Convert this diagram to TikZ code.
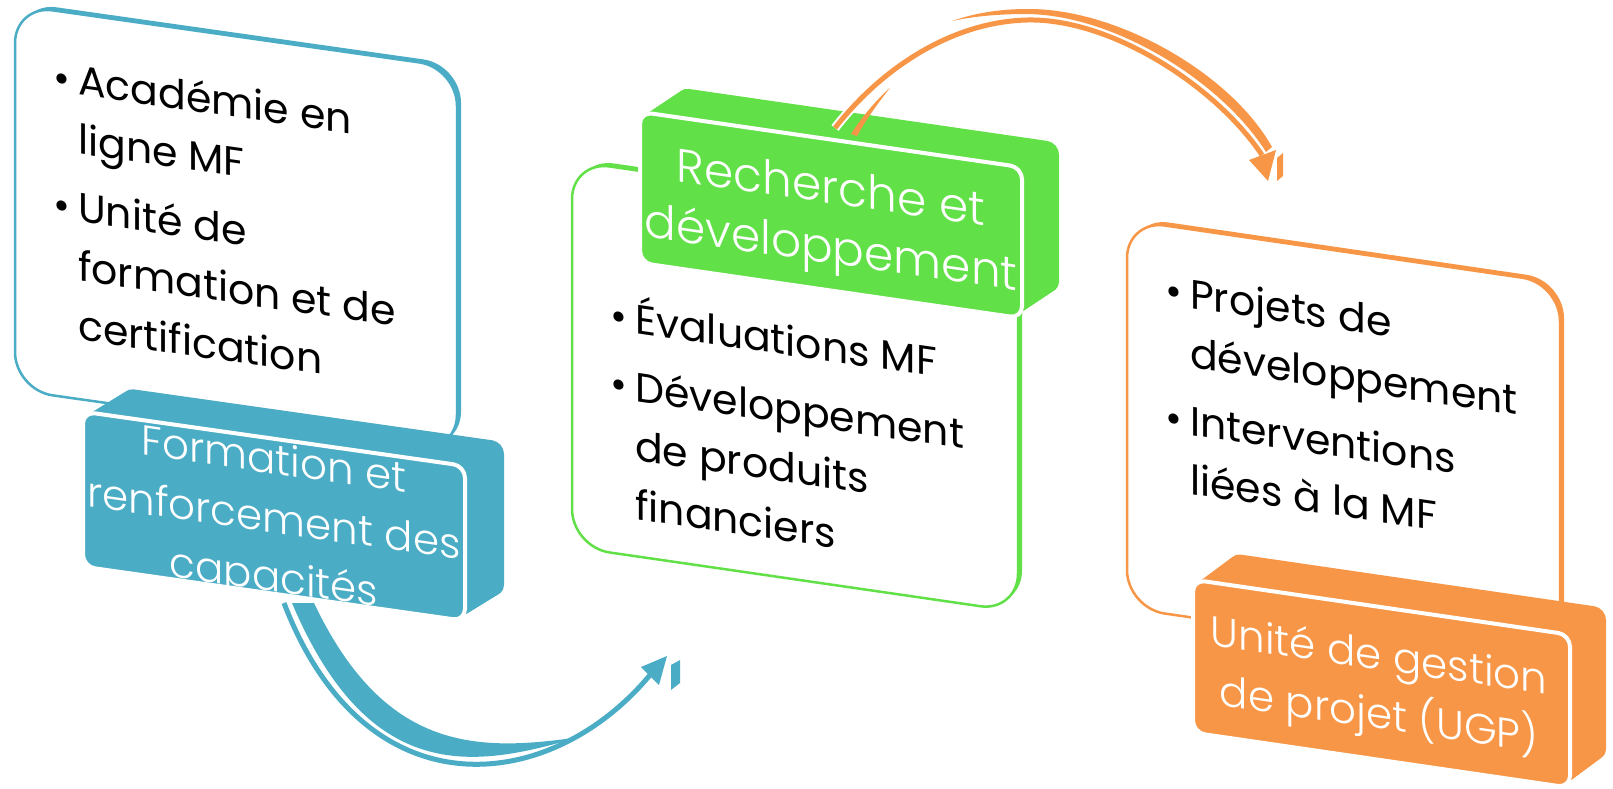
\documentclass[tikz,border=0pt]{standalone}
\usepackage{fontspec}
\setmainfont{Poppins}
\newfontfamily\lightfont{Poppins Light}
\usepackage{array}
\definecolor{cblue}{HTML}{4BACC6}
\definecolor{cgreen}{HTML}{62E048}
\definecolor{corange}{HTML}{F79646}
\begin{document}
\begin{tikzpicture}[x=1pt,y=-1pt,
  panel/.style={fill=white, draw=#1, line width=2.5pt, rounded corners=38pt},
  paneldepth/.style={fill=#1, rounded corners=38pt},
  labelbody/.style={fill=#1, rounded corners=12pt},
  labelface/.style={fill=#1, draw=white, line width=4pt, rounded corners=12pt},
  bodytext/.style={font=\fontsize{41}{59}\selectfont, inner sep=0pt, anchor=base west, transform shape},
  labeltext/.style={text=white, inner sep=0pt, anchor=base, transform shape},
  band/.style={fill=#1},
  casing/.style={draw=white, line width=9pt},
]
\useasboundingbox (0,0) rectangle (1613,788);

% ---------------- group 1 : panel and label body
\begin{scope}[shift={(15,5)}, yslant=-0.142]
  \fill[paneldepth=cblue] (4,-3.6) rectangle (446,381.4);
  \draw[panel=cblue] (0,0) rectangle (442,385);
  \node[bodytext] (body1) at (38,81) {\begin{tabular}[t]{@{}p{25pt}@{}l@{}}•&Académie en\\ &ligne MF\\[9pt] •&Unité de\\ &formation et de\\ &certification\end{tabular}};
  \foreach \k in {0,0.05,...,1.01}
    \fill[labelbody=cblue, shift={(\k*39,\k*-29.5)}] (68,397) rectangle (450,552);
\end{scope}

% ---------------- group 2 : panel and label body
\begin{scope}[shift={(572,161)}, yslant=-0.145]
  \fill[paneldepth=cgreen] (4,-3.6) rectangle (450,382.4);
  \draw[panel=cgreen] (0,0) rectangle (446,386);
  \node[bodytext] (body2) at (38,163) {\begin{tabular}[t]{@{}p{25pt}@{}l@{}}•&Évaluations MF\\[9pt] •&Développement\\ &de produits\\ &financiers\end{tabular}};
  \foreach \k in {0,0.05,...,1.01}
    \fill[labelbody=cgreen, shift={(\k*37,\k*-30)}] (68,-59) rectangle (450,92);
\end{scope}

% ---------------- group 3 : panel and label body
\begin{scope}[shift={(1127,220)}, yslant=-0.146]
  \fill[paneldepth=corange] (4,-3.6) rectangle (437,384.4);
  \draw[panel=corange] (0,0) rectangle (433,388);
  \node[bodytext] (body3) at (38,79) {\begin{tabular}[t]{@{}p{25pt}@{}l@{}}•&Projets de\\ &développement\\[9pt] •&Interventions\\ &liées à la MF\end{tabular}};
  \foreach \k in {0,0.05,...,1.01}
    \fill[labelbody=corange, shift={(\k*36,\k*-32)}] (66,350) rectangle (443,503);
\end{scope}

% ---------------- blue arrow (label 1 -> group 2)
\coordinate (b0) at (284,603);
\coordinate (b1) at (650,675);
\draw[cblue, line width=5pt] (b0) .. controls (365,815) and (550,795) .. (b1);
\fill[band=cblue] (292,603) .. controls (372,792) and (482,765) .. (580,737)
   .. controls (477,752) and (385,752) .. (314,603) -- cycle;
\fill[band=cblue] (641,667) -- (667,656) -- (659,685) -- cycle;
\fill[band=cblue] (671,665) -- (680,660) -- (680,683) -- (671,690) -- cycle;

% ---------------- orange arrow (label 2 -> group 3)
\coordinate (o0) at (835,128);
\coordinate (o1) at (1262,155);
\draw[casing] (o0) .. controls (880,70) and (950,22) .. (1027,20) .. controls (1110,18) and (1215,85) .. (o1);
\draw[corange, line width=5pt] (o0) .. controls (880,70) and (950,22) .. (1027,20) .. controls (1110,18) and (1215,85) .. (o1);
\fill[band=corange] (952,21) .. controls (975,13) and (1000,9) .. (1027,9)
   .. controls (1115,8) and (1230,72) .. (1272,147) -- (1266,152)
   .. controls (1222,82) and (1115,15) .. (1027,14)
   .. controls (1000,14) and (975,16) .. (952,21) -- cycle;
\fill[band=corange] (851,134) .. controls (862,117) and (876,100) .. (890,88)
   .. controls (878,103) and (867,118) .. (857,136) -- cycle;
\fill[band=corange] (1249,160) -- (1276,150) -- (1268,181) -- cycle;
\fill[band=corange] (1277,158) -- (1283,153) -- (1283,176) -- (1277,181) -- cycle;

% ---------------- label front faces and texts
\begin{scope}[shift={(15,5)}, yslant=-0.142]
  \draw[labelface=cblue] (68,397) rectangle (450,552);
  \node[labeltext, font=\lightfont\fontsize{42}{59}\selectfont] (lab1) at (259,432) {\begin{tabular}[t]{@{}c@{}}Formation et\\renforcement des\\capacités\end{tabular}};
\end{scope}
\begin{scope}[shift={(572,161)}, yslant=-0.145]
  \draw[labelface=cgreen] (68,-59) rectangle (450,92);
  \node[labeltext, font=\lightfont\fontsize{47}{60}\selectfont] (lab2) at (259,5) {\begin{tabular}[t]{@{}c@{}}Recherche et\\développement\end{tabular}};
\end{scope}
\begin{scope}[shift={(1127,220)}, yslant=-0.146]
  \draw[labelface=corange] (66,350) rectangle (443,503);
  \node[labeltext, font=\lightfont\fontsize{42}{59}\selectfont] (lab3) at (252,413) {\begin{tabular}[t]{@{}c@{}}Unité de gestion\\de projet (UGP)\end{tabular}};
\end{scope}
\end{tikzpicture}
\end{document}
